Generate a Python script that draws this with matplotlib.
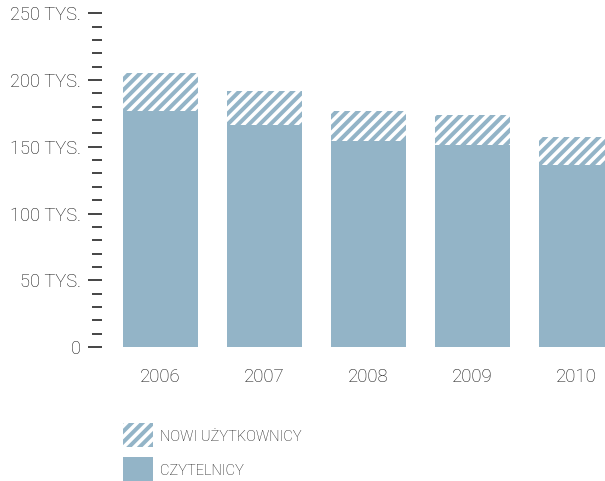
import numpy as np
import matplotlib
matplotlib.use("Agg")
import matplotlib.pyplot as plt
from matplotlib.patches import Rectangle
from matplotlib.ticker import MultipleLocator, FuncFormatter

years = ["2006", "2007", "2008", "2009", "2010"]
czytelnicy = [176.5, 166.5, 154.5, 151.0, 136.3]   # tys.
nowi = [28.5, 25.5, 22.5, 23.0, 20.7]              # tys.

blue = "#93b4c7"
txt = "#111111"

plt.rcParams['font.family'] = ['Roboto', 'DejaVu Sans']
plt.rcParams['hatch.linewidth'] = 4.5

dpi = 64
W, H = 605, 481
fig = plt.figure(figsize=(W / dpi, H / dpi), dpi=dpi)
ax = fig.add_axes([102 / W, 134 / H, 503 / W, 333.7 / H])

x = np.arange(len(years))
ax.bar(x, czytelnicy, width=0.72, color=blue, linewidth=0)
ax.bar(x, nowi, width=0.72, bottom=czytelnicy, color="white", edgecolor=blue,
       linewidth=0, hatch="//")

ax.set_xlim(-0.5625, 4.274)
ax.set_ylim(0, 250)
for s in ax.spines.values():
    s.set_visible(False)

ax.yaxis.set_major_locator(MultipleLocator(50))
ax.yaxis.set_minor_locator(MultipleLocator(10))
ax.yaxis.set_major_formatter(FuncFormatter(lambda v, p: "0" if v == 0 else f"{int(v)} TYS."))
ax.tick_params(axis="y", which="major", length=15.5, width=2.0, color="#333333",
               pad=8, labelsize=20.5, labelcolor=txt)
ax.tick_params(axis="y", which="minor", length=11, width=2.0, color="#333333")

ax.set_xticks(x)
ax.set_xticklabels(years)
ax.tick_params(axis="x", length=0, pad=24, labelsize=21, labelcolor=txt)

for t in ax.get_yticklabels() + ax.get_xticklabels():
    t.set_fontweight("light")

# legend drawn by hand (pixel layout from the reference)
def px(xp, yp):
    return xp / W, 1 - yp / H

fig.add_artist(Rectangle(px(123, 447), 30 / W, 24 / H, transform=fig.transFigure,
                         facecolor="white", edgecolor=blue, linewidth=0, hatch="//"))
fig.add_artist(Rectangle(px(123, 481), 30 / W, 24 / H, transform=fig.transFigure,
                         facecolor=blue, linewidth=0))
fig.text(*px(160, 437), "NOWI UŻYTKOWNICY", va="center", ha="left",
         fontsize=16.5, color=txt, fontweight="light")
fig.text(*px(160, 471), "CZYTELNICY", va="center", ha="left",
         fontsize=16.5, color=txt, fontweight="light")

fig.savefig("out.png", dpi=dpi)
